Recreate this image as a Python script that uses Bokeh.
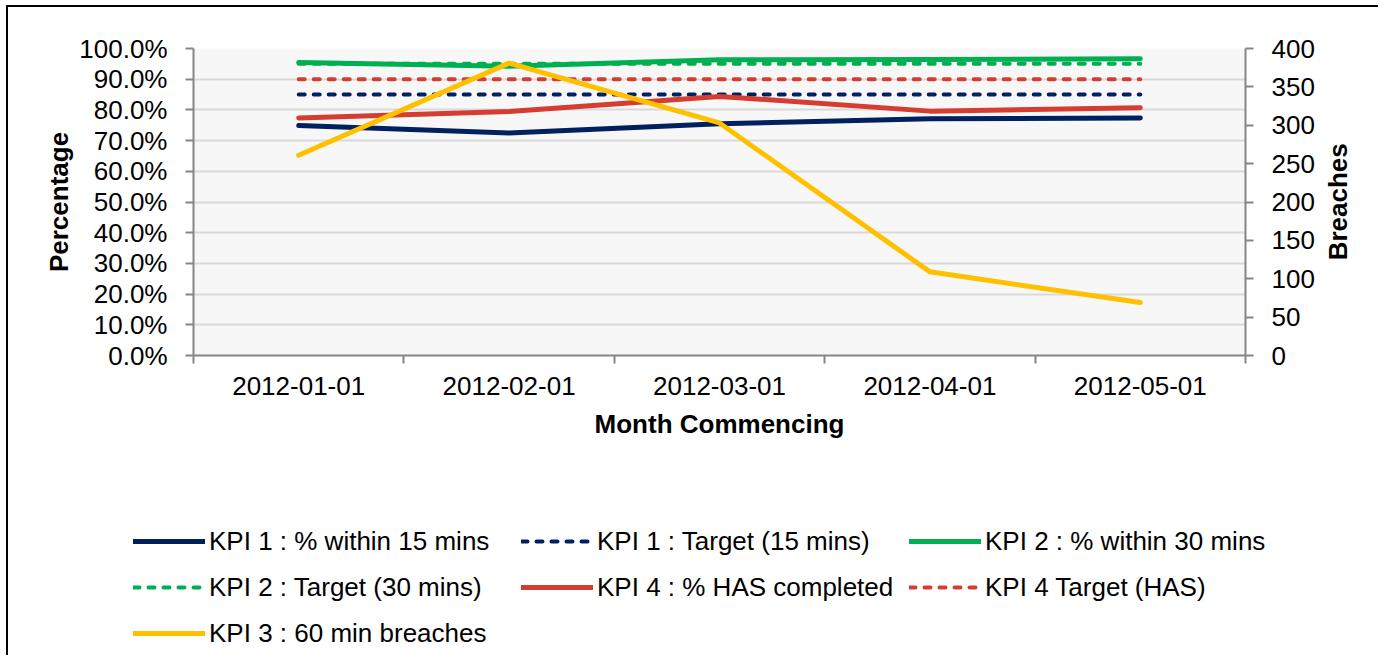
import math
from bokeh.plotting import figure
from bokeh.models import (Range1d, LinearAxis, FixedTicker, PrintfTickFormatter,
                          Legend, LegendItem)
from bokeh.embed import file_html
from bokeh.resources import INLINE

# ---- data ----
categories = ["2012-01-01", "2012-02-01", "2012-03-01", "2012-04-01", "2012-05-01"]
kpi1_within_15 = [74.9, 72.5, 75.5, 77.1, 77.4]
kpi1_target = [85.0, 85.0, 85.0, 85.0, 85.0]
kpi2_within_30 = [95.4, 94.2, 96.3, 96.4, 96.7]
kpi2_target = [95.0, 95.0, 95.0, 95.0, 95.0]
kpi4_has = [77.4, 79.5, 84.4, 79.6, 80.7]
kpi4_target = [90.0, 90.0, 90.0, 90.0, 90.0]
kpi3_breaches = [261, 381, 303, 109, 69]

left_ticks = [0, 10, 20, 30, 40, 50, 60, 70, 80, 90, 100]
right_ticks = [0, 50, 100, 150, 200, 250, 300, 350, 400]

series_labels = ["KPI 1 : % within 15 mins", "KPI 1 : Target (15 mins)",
                 "KPI 2 : % within 30 mins", "KPI 2 : Target (30 mins)",
                 "KPI 4 : % HAS completed", "KPI 4 Target (HAS)",
                 "KPI 3 : 60 min breaches"]

FONT = "Liberation Sans"
AXIS_GRAY = "#868686"
NAVY = "#002060"
GREEN = "#00B050"
RED = "#D43D2F"
YELLOW = "#FFC000"

x_pos = [i + 0.5 for i in range(len(categories))]
bounds = list(range(len(categories) + 1))

p = figure(width=1372, height=443, output_backend="svg", toolbar_location=None,
           x_range=Range1d(0, len(categories)), y_range=Range1d(0, 100),
           min_border_left=185, min_border_right=135, min_border_top=41,
           min_border_bottom=95, background_fill_color="#f7f7f7",
           border_fill_color="white")
p.outline_line_color = None
p.styles = {"border-top": "2px solid black", "border-left": "2px solid black",
            "margin-top": "5px", "margin-left": "6px"}

p.extra_y_ranges = {"breaches": Range1d(0, 400), "title_pos": Range1d(0, 1)}

# x axis
xa = p.xaxis[0]
xa.ticker = FixedTicker(ticks=x_pos, minor_ticks=bounds)
xa.major_label_overrides = {x: c for x, c in zip(x_pos, categories)}
xa.major_tick_out = 0
xa.major_tick_in = 0
xa.minor_tick_out = 8
xa.minor_tick_in = 0
xa.minor_tick_line_color = AXIS_GRAY
xa.minor_tick_line_width = 2
xa.axis_line_color = AXIS_GRAY
xa.axis_line_width = 2
xa.major_label_standoff = 13
xa.major_label_text_font = FONT
xa.major_label_text_font_size = "26px"
xa.major_label_text_color = "black"
xa.axis_label = "Month Commencing"
xa.axis_label_text_font = FONT
xa.axis_label_text_font_size = "26px"
xa.axis_label_text_font_style = "bold"
xa.axis_label_text_color = "black"
xa.axis_label_standoff = 11

# left axis
ya = p.yaxis[0]
ya.ticker = FixedTicker(ticks=left_ticks)
ya.formatter = PrintfTickFormatter(format="%.1f%%")
ya.major_tick_out = 8
ya.major_tick_in = 0
ya.minor_tick_out = 0
ya.minor_tick_in = 0
ya.major_tick_line_color = AXIS_GRAY
ya.major_tick_line_width = 2
ya.axis_line_color = AXIS_GRAY
ya.axis_line_width = 2
ya.major_label_standoff = 18
ya.major_label_text_font = FONT
ya.major_label_text_font_size = "26px"
ya.major_label_text_color = "black"
ya.axis_label = "Percentage"
ya.axis_label_text_font = FONT
ya.axis_label_text_font_size = "26px"
ya.axis_label_text_font_style = "bold"
ya.axis_label_text_color = "black"
ya.axis_label_standoff = 2

# right axis (breaches)
ra = LinearAxis(y_range_name="breaches", ticker=FixedTicker(ticks=right_ticks))
ra.major_tick_out = 8
ra.major_tick_in = 0
ra.minor_tick_out = 0
ra.minor_tick_in = 0
ra.major_tick_line_color = AXIS_GRAY
ra.major_tick_line_width = 2
ra.axis_line_color = AXIS_GRAY
ra.axis_line_width = 2
ra.major_label_standoff = 18
ra.major_label_text_font = FONT
ra.major_label_text_font_size = "26px"
ra.major_label_text_color = "black"
p.add_layout(ra, "right")

# right axis title, written as a rotated label reading bottom-to-top
TITLE_START = 0.31
ta = LinearAxis(y_range_name="title_pos", ticker=FixedTicker(ticks=[TITLE_START]))
ta.major_label_overrides = {TITLE_START: "Breaches"}
ta.major_label_orientation = math.pi / 2
ta.major_tick_out = 0
ta.major_tick_in = 0
ta.minor_tick_out = 0
ta.minor_tick_in = 0
ta.axis_line_color = None
ta.major_label_standoff = 21
ta.major_label_text_font = FONT
ta.major_label_text_font_size = "26px"
ta.major_label_text_font_style = "bold"
ta.major_label_text_color = "black"
p.add_layout(ta, "right")

p.xgrid.visible = False
p.ygrid.ticker = FixedTicker(ticks=left_ticks)
p.ygrid.grid_line_color = "#d9d9d9"
p.ygrid.grid_line_width = 2

solid = dict(line_width=5, line_cap="round", line_join="round")
dashed = dict(line_width=4, line_cap="round", line_dash="6 9")

series = [
    (kpi1_within_15, NAVY, solid, "default"),
    (kpi1_target, NAVY, dashed, "default"),
    (kpi2_within_30, GREEN, solid, "default"),
    (kpi2_target, GREEN, dashed, "default"),
    (kpi4_has, RED, solid, "default"),
    (kpi4_target, RED, dashed, "default"),
    (kpi3_breaches, YELLOW, solid, "breaches"),
]
for vals, col, st, rng in series:
    p.line(x_pos, vals, line_color=col, y_range_name=rng, **st)

# ---- legend panel: a second root directly below the chart ----
p2 = figure(width=1372, height=207, output_backend="svg", toolbar_location=None,
            x_range=Range1d(0, len(categories)), y_range=Range1d(-2, -1),
            x_axis_location=None, y_axis_location=None,
            min_border=0, border_fill_color="white", background_fill_color="white")
p2.outline_line_color = None
p2.grid.visible = False
p2.styles = {"border-left": "2px solid black", "margin-left": "6px"}

# same series, outside this panel's visible range: only their legend samples show
legend_renderers = [p2.line(x_pos, vals, line_color=col, **st)
                    for vals, col, st, _ in series]

legend = Legend(items=[LegendItem(label=lab, renderers=[r])
                       for lab, r in zip(series_labels, legend_renderers)],
                location=(125, 5), orientation="horizontal", ncols=3,
                glyph_width=72, glyph_height=20, label_standoff=4, label_width=300,
                label_height=34, spacing=12, padding=0, margin=0,
                border_line_alpha=0, background_fill_alpha=0,
                label_text_font=FONT, label_text_font_size="26px",
                label_text_color="black")
p2.add_layout(legend, "center")

open("out.html", "w").write(file_html([p, p2], INLINE))
